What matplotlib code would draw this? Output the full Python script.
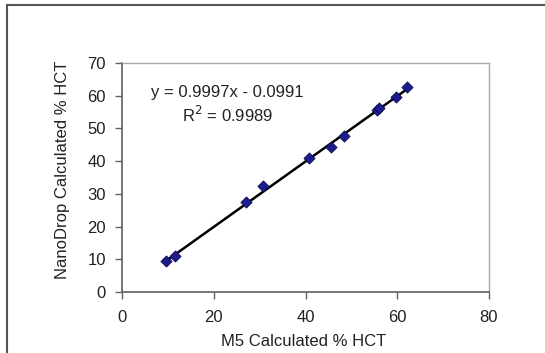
import numpy as np
import matplotlib
matplotlib.use('Agg')
import matplotlib.pyplot as plt
from matplotlib.lines import Line2D

plt.rcParams['font.family'] = ['Liberation Sans', 'DejaVu Sans']

# Data
m5_hct = [9.6, 11.5, 27.1, 30.7, 40.7, 45.6, 48.5, 55.6, 56.0, 59.7, 62.1]
nanodrop_hct = [9.6, 11.0, 27.6, 32.4, 40.9, 44.2, 47.8, 55.7, 56.1, 59.7, 62.8]
slope = 0.9997
intercept = -0.0991
r2 = 0.9989

x_ticks = [0, 20, 40, 60, 80]
y_ticks = [0, 10, 20, 30, 40, 50, 60, 70]

W, H = 545, 353
fig = plt.figure(figsize=(W / 100, H / 100), dpi=100)
ax = fig.add_axes([122 / W, 1 - 292 / H, (489 - 122) / W, (292 - 63) / H])

# Trendline
xs = np.array([min(m5_hct), max(m5_hct)])
ax.plot(xs, slope * xs + intercept, color='black', lw=1.8, zorder=2)

ax.scatter(m5_hct, nanodrop_hct, marker='D', s=32, color='#1c1c8f',
           edgecolors='#0a0a50', linewidths=0.6, zorder=3)

ax.set_xlim(0, 80)
ax.set_ylim(0, 70)
ax.set_xticks(x_ticks)
ax.set_yticks(y_ticks)
ax.tick_params(direction='out', length=5, width=1, color='#606060',
               labelsize=12, labelcolor='#222222')
ax.tick_params(axis='x', pad=8)
ax.tick_params(axis='y', pad=6.5)

for s in ['left', 'bottom']:
    ax.spines[s].set_color('#606060')
    ax.spines[s].set_linewidth(1.2)
for s in ['top', 'right']:
    ax.spines[s].set_color('#a8a8a8')
    ax.spines[s].set_linewidth(1.0)

# labels placed in pixel coordinates (from top-left)
def px_text(x, y, s, **kw):
    fig.text(x / W, 1 - y / H, s, ha='center', va='center', fontsize=12,
             color='#222222', **kw)

px_text(304, 341, 'M5 Calculated % HCT')
px_text(62, 170, 'NanoDrop Calculated % HCT', rotation=90)
px_text(227, 92, 'y = 0.9997x - 0.0991')
px_text(228, 115, r'R$^2$ = ' + f'{r2:.4f}')

# outer frame (left and top)
fig.add_artist(Line2D([7 / W, 7 / W], [0, 1 - 5 / H], transform=fig.transFigure,
                      color='#555555', lw=1.5))
fig.add_artist(Line2D([7 / W, 1], [1 - 5 / H, 1 - 5 / H], transform=fig.transFigure,
                      color='#555555', lw=1.5))

fig.savefig('out.png', dpi=100)
